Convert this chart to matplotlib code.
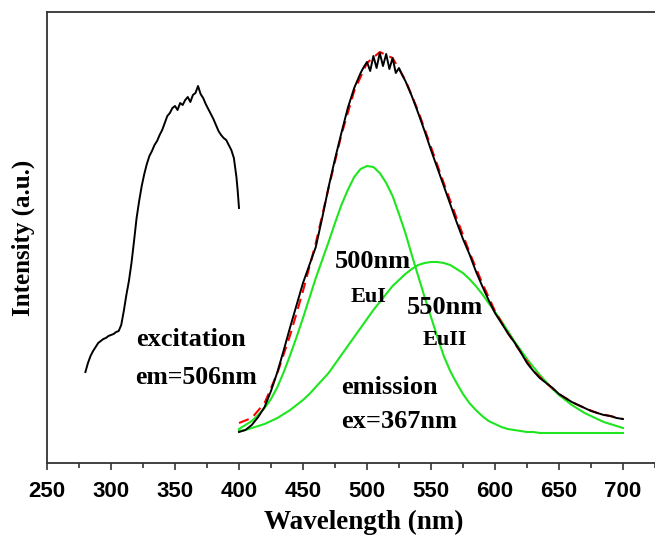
import matplotlib
matplotlib.use("Agg")
import matplotlib.pyplot as plt
from matplotlib.ticker import MultipleLocator

# excitation spectrum (em = 506 nm)
exc_wl = [280, 282, 284, 286, 288, 290, 292, 294, 296, 298, 300, 302, 304, 306, 308,
          310, 312, 314, 316, 318, 320, 322, 324, 326, 328, 330, 332, 334, 336, 338,
          340, 342, 344, 346, 348, 350, 352, 354, 356, 358, 360, 362, 364, 366, 368,
          370, 372, 374, 376, 378, 380, 382, 384, 386, 388, 390, 392, 394, 396, 398,
          399, 400]
exc_int = [91, 100, 107, 112, 116, 120, 122, 124, 125, 127, 128, 129, 131, 132, 138,
           152, 168, 182, 200, 222, 245, 262, 277, 289, 299, 307, 312, 318, 322, 328,
           333, 340, 347, 350, 355, 357, 353, 360, 358, 363, 366, 361, 368, 370, 377,
           369, 365, 359, 354, 349, 344, 338, 332, 328, 325, 323, 318, 313, 305, 286,
           272, 255]

# emission spectrum (ex = 367 nm)
em_wl = [400, 405, 410, 415, 420, 425, 430, 435, 440, 445, 450, 455, 460, 465, 470,
         475, 480, 485, 490, 495, 497.5, 500, 502.5, 505, 507.5, 510, 512.5, 515,
         517.5, 520, 522.5, 525, 527.5, 530, 535, 540, 545, 550, 555, 560, 565, 570,
         575, 580, 585, 590, 595, 600, 605, 610, 615, 620, 625, 630, 635, 640, 645,
         650, 655, 660, 665, 670, 675, 680, 685, 690, 695, 700]
em_int = [31, 33, 38, 46, 56, 72, 91, 113, 136, 158, 180, 198, 216, 245, 276,
          304, 330, 355, 375, 390, 396, 401, 392, 407, 395, 410, 397, 409,
          394, 405, 390, 395, 388, 382, 367, 350, 332, 313, 295, 277, 259, 241,
          224, 209, 192, 177, 163, 150, 140, 130, 121, 111, 100, 92, 85, 80, 75,
          69, 65, 61, 58, 55, 52, 50, 48, 47, 45, 44]

# two-band fit: cumulative curve and the EuI / EuII components
fit_wl = [400, 410, 420, 430, 440, 450, 460, 470, 480, 490, 500, 510, 520, 530, 540,
          550, 560, 570, 580, 590, 600, 610, 620, 630, 640, 650, 660, 670, 680, 690, 700]
fit_int = [40, 45, 60, 90, 128, 172, 220, 275, 328, 372, 400, 411, 405, 383, 352,
           316, 280, 245, 211, 180, 152, 130, 111, 92, 80, 69, 61, 55, 50, 47, 44]

comp_wl = list(range(400, 705, 5))
eu1_int = [34, 38, 42, 48, 55, 64, 76, 91, 108, 126, 145, 165, 185, 203, 221,
           240, 258, 273, 286, 294, 297, 296, 290, 280, 267, 249, 230, 208, 187, 166,
           146, 126, 107, 92, 80, 69, 60, 53, 47, 42, 39, 36, 34, 33, 32,
           31, 31, 30, 30, 30, 30, 30, 30, 30, 30, 30, 30, 30, 30, 30, 30]
eu2_int = [32, 33, 35, 37, 39, 42, 45, 49, 53, 58, 63, 69, 76, 83, 90,
           99, 108, 117, 126, 135, 144, 153, 161, 169, 177, 183, 189, 194, 198, 200,
           201, 201, 200, 198, 194, 190, 184, 177, 169, 160, 151, 142, 132, 122, 113,
           104, 96, 88, 81, 74, 68, 63, 58, 54, 50, 47, 44, 41, 39, 37, 35]

serif = "Liberation Serif"
sans = "Liberation Sans"

fig = plt.figure(figsize=(6.55, 5.35), dpi=100)
ax = fig.add_axes([47 / 655, 72 / 535, 609 / 655, 451 / 535])

ax.plot(comp_wl, eu1_int, color="#1ee61e", lw=1.5, zorder=2)
ax.plot(comp_wl, eu2_int, color="#1ee61e", lw=1.5, zorder=2)
ax.plot(fit_wl, fit_int, color="red", lw=1.5, ls=(0, (5, 3)), zorder=3)
ax.plot(em_wl, em_int, color="black", lw=1.4, zorder=4)
ax.plot(exc_wl, exc_int, color="black", lw=1.4, zorder=4)

ax.set_xlim(250, 725.8)
ax.set_ylim(0, 451)
ax.set_yticks([])
ax.xaxis.set_minor_locator(MultipleLocator(25))
ax.set_xticks(range(250, 701, 50))
ax.tick_params(axis="x", which="major", direction="out", length=5, width=1.2,
               pad=8, labelsize=16, color="#333333")
ax.tick_params(axis="x", which="minor", direction="out", length=3.6, width=1.2,
               color="#333333")
for lbl in ax.get_xticklabels():
    lbl.set_fontfamily(sans)
    lbl.set_fontweight("bold")
for sp in ax.spines.values():
    sp.set_linewidth(1.3)
    sp.set_color("#333333")

ax.set_xlabel("Wavelength (nm)", family=serif, weight="bold", fontsize=19.5)
ax.xaxis.set_label_coords(0.52, -0.105)
ax.set_ylabel("Intensity (a.u.)", family=serif, weight="bold", fontsize=18)
ax.yaxis.set_label_coords(-0.02, 0.5)

txt = dict(family=serif, weight="bold", va="center", ha="left")
ax.text(320, 123, "excitation", fontsize=19, **txt)
ax.text(319, 86, "em=506nm", fontsize=18.5, **txt)
ax.text(475, 201, "500nm", fontsize=19, **txt)
ax.text(487, 166, "EuI", fontsize=16, **txt)
ax.text(531, 156, "550nm", fontsize=19, **txt)
ax.text(543.5, 123, "EuII", fontsize=16, **txt)
ax.text(480, 76, "emission", fontsize=19, **txt)
ax.text(480, 41, "ex=367nm", fontsize=19, **txt)

fig.savefig("out.png", dpi=100)
